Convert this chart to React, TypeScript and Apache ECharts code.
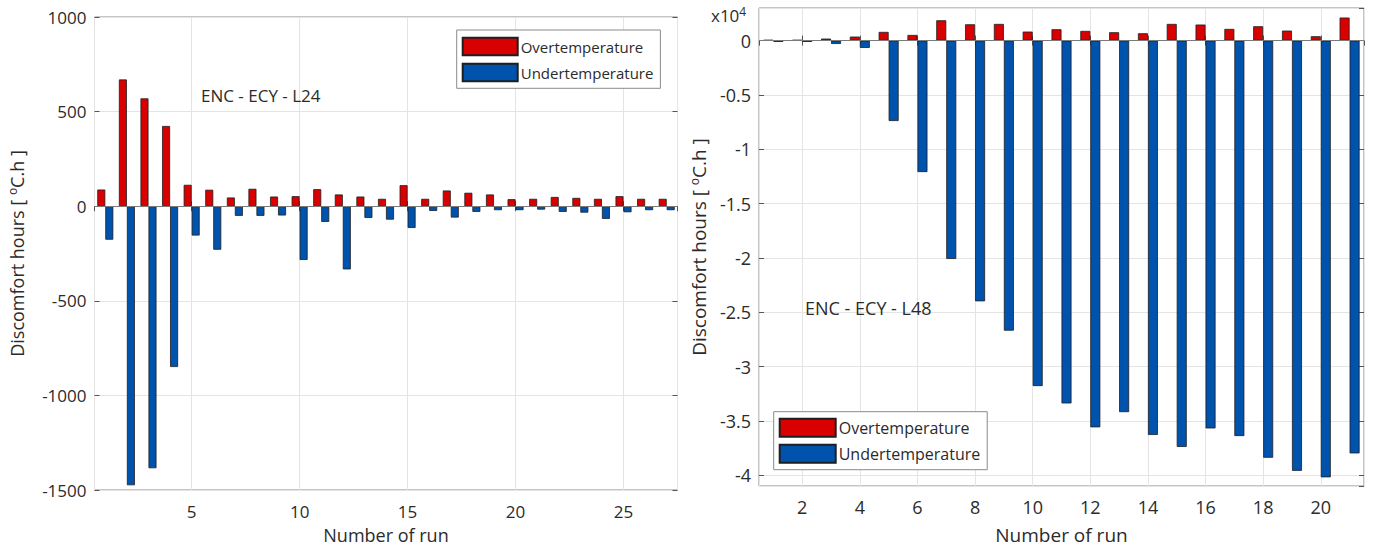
import React, { useEffect, useRef } from "react";
import * as echarts from "echarts";

// ---- Data ----
const leftRuns = [1, 2, 3, 4, 5, 6, 7, 8, 9, 10, 11, 12, 13, 14, 15, 16, 17, 18, 19, 20, 21, 22, 23, 24, 25, 26, 27];
const leftOver = [88, 670, 570, 424, 113, 87, 46, 92, 51, 53, 90, 62, 51, 39, 111, 39, 83, 71, 62, 37, 39, 49, 44, 39, 53, 39, 39];
const leftUnder = [-177, -1475, -1385, -850, -155, -230, -51, -51, -49, -284, -83, -334, -62, -71, -115, -25, -60, -30, -21, -21, -18, -30, -34, -67, -32, -21, -21];

const rightRuns = [1, 2, 3, 4, 5, 6, 7, 8, 9, 10, 11, 12, 13, 14, 15, 16, 17, 18, 19, 20, 21];
const rightOver = [60, 60, 185, 370, 800, 520, 1870, 1500, 1535, 830, 1045, 890, 770, 675, 1535, 1475, 1075, 1320, 920, 400, 2120];
const rightUnder = [-120, -120, -310, -675, -7400, -12100, -20100, -24000, -26700, -31800, -33400, -35600, -34200, -36300, -37400, -35700, -36400, -38400, -39600, -40200, -38000];

const seriesNames = ["Overtemperature", "Undertemperature"];
const leftTitle = "ENC - ECY - L24";
const rightTitle = "ENC - ECY - L48";
const xTitle = "Number of run";
const yTitle = "Discomfort hours [ {sup|o}C.h ]";

const FONT = '"Open Sans", sans-serif';
const RED = "#d90000";
const BLUE = "#0053ad";
const EDGE = "#1e1e1e";
const TXT = "#2b2b2b";
const GRIDC = "#e4e4e4";
const BOXC = "#8a8a8a";

function pairs(xs: number[], ys: number[]) {
  return xs.map((x, i) => [x, ys[i]]);
}

export default function App() {
  const ref = useRef<HTMLDivElement>(null);
  useEffect(() => {
    if (!ref.current) return;
    const chart = echarts.init(ref.current, undefined, { renderer: "svg" });

    const richSup = {
      sup: { fontSize: 12, fontFamily: FONT, color: TXT, verticalAlign: "top", padding: [0, 0, 9, 0] },
    };

    const mkX = (gi: number, min: number, max: number, step: number, pos: string, main: boolean, labelMargin: number, nameGap: number, labelSize: number, nameSize: number) => ({
      gridIndex: gi,
      type: "value",
      min,
      max,
      minInterval: step,
      maxInterval: step,
      splitNumber: Math.round((max - min) / step),
      position: pos,
      axisLine: { show: false },
      axisTick: { show: true, inside: true, length: 5, lineStyle: { color: "#555" } },
      axisLabel: main
        ? {
            show: true,
            fontFamily: FONT,
            fontSize: labelSize,
            color: TXT,
            margin: labelMargin,
            showMinLabel: false,
            showMaxLabel: false,
            formatter: (v: number) => (Number.isInteger(v) && v % step === 0 ? String(v) : ""),
          }
        : { show: false },
      splitLine: main ? { show: true, lineStyle: { color: GRIDC, width: 1 } } : { show: false },
      name: main ? xTitle : "",
      nameLocation: "middle",
      nameGap,
      nameTextStyle: { fontFamily: FONT, fontSize: nameSize, color: TXT },
    });

    const mkY = (gi: number, min: number, max: number, step: number, pos: string, main: boolean, fmt: (v: number) => string, nameGap: number, labelSize: number, nameSize: number, showEnds: boolean) => ({
      gridIndex: gi,
      type: "value",
      min,
      max,
      minInterval: step,
      maxInterval: step,
      splitNumber: Math.round((max - min) / step),
      position: pos,
      axisLine: { show: false },
      axisTick: { show: true, inside: true, length: 5, lineStyle: { color: "#555" } },
      axisLabel: main
        ? {
            show: true,
            fontFamily: FONT,
            fontSize: labelSize,
            color: TXT,
            margin: 8,
            showMinLabel: showEnds,
            showMaxLabel: showEnds,
            formatter: fmt,
          }
        : { show: false },
      splitLine: main ? { show: true, lineStyle: { color: GRIDC, width: 1 } } : { show: false },
      name: main ? yTitle : "",
      nameLocation: "middle",
      nameGap,
      nameRotate: 90,
      nameTextStyle: { fontFamily: FONT, fontSize: nameSize, color: TXT, rich: richSup },
    });

    const zeroLine = {
      silent: true,
      symbol: "none",
      label: { show: false },
      lineStyle: { color: "#7a7a7a", width: 1, type: "solid" },
      data: [{ yAxis: 0 }],
    };

    const barSeries = (name: string, color: string, xi: number, yi: number, data: number[][], width: number, withZero: boolean) => ({
      name,
      type: "bar",
      xAxisIndex: xi,
      yAxisIndex: yi,
      barWidth: width,
      barGap: "0%",
      itemStyle: { color, borderColor: EDGE, borderWidth: 0.8 },
      data,
      markLine: withZero ? zeroLine : undefined,
    });

    const leftYFmt = (v: number) => (v % 500 === 0 ? String(v) : "");
    const rightYFmt = (v: number) => (v % 5000 === 0 ? String(v / 10000) : "");

    const legendCommon = {
      orient: "vertical",
      icon: "rect",
      backgroundColor: "#ffffff",
      borderColor: "#8a8a8a",
      borderWidth: 1,
      selectedMode: false,
      data: seriesNames,
    };

    chart.setOption({
      animation: false,
      grid: [
        { left: 94.5, top: 17, width: 583, height: 473, show: true, borderColor: BOXC, borderWidth: 1, backgroundColor: "#fff" },
        { left: 759, top: 8, width: 605, height: 478, show: true, borderColor: BOXC, borderWidth: 1, backgroundColor: "#fff" },
      ],
      xAxis: [
        mkX(0, 0.5, 27.5, 5, "bottom", true, 13, 36, 17, 18),
        mkX(0, 0.5, 27.5, 5, "top", false, 0, 0, 17, 18),
        mkX(1, 0.5, 21.5, 2, "bottom", true, 12, 39, 18, 19),
        mkX(1, 0.5, 21.5, 2, "top", false, 0, 0, 18, 19),
      ],
      yAxis: [
        mkY(0, -1500, 1000, 500, "left", true, leftYFmt, 67, 17, 18, true),
        mkY(0, -1500, 1000, 500, "right", false, leftYFmt, 0, 17, 18, false),
        mkY(1, -41000, 3000, 5000, "left", true, rightYFmt, 50, 18, 19, false),
        mkY(1, -41000, 3000, 5000, "right", false, rightYFmt, 0, 18, 19, false),
      ],
      legend: [
        {
          ...legendCommon,
          left: 456.7,
          top: 30,
          padding: [6.7, 7, 6, 5],
          itemWidth: 55,
          itemHeight: 17.6,
          itemGap: 6.4,
          textStyle: { fontFamily: FONT, fontSize: 15, color: TXT, lineHeight: 17.6, padding: [0, 0, 0, -2] },
        },
        {
          ...legendCommon,
          left: 773.7,
          top: 411.7,
          padding: [6, 7, 6, 5],
          itemWidth: 56,
          itemHeight: 18,
          itemGap: 6,
          textStyle: { fontFamily: FONT, fontSize: 16, color: TXT, lineHeight: 18, padding: [0, 0, 0, -2] },
        },
      ],
      graphic: [
        {
          type: "text",
          left: 201,
          top: 87,
          z: 100,
          style: { text: leftTitle, fontFamily: FONT, fontSize: 17, fill: TXT },
        },
        {
          type: "text",
          left: 805,
          top: 299,
          z: 100,
          style: { text: rightTitle, fontFamily: FONT, fontSize: 18, fill: TXT },
        },
        {
          type: "text",
          left: 711,
          top: 5,
          z: 100,
          style: {
            text: "x10{sup|4}",
            fontFamily: FONT,
            fontSize: 17,
            fill: TXT,
            rich: { sup: { fontSize: 12, fontFamily: FONT, fill: TXT, verticalAlign: "top", padding: [0, 0, 8, 0] } },
          },
        },
      ],
      series: [
        barSeries(seriesNames[0], RED, 0, 0, pairs(leftRuns, leftOver), 8, true),
        barSeries(seriesNames[1], BLUE, 0, 0, pairs(leftRuns, leftUnder), 8, false),
        barSeries(seriesNames[0], RED, 2, 2, pairs(rightRuns, rightOver), 10, true),
        barSeries(seriesNames[1], BLUE, 2, 2, pairs(rightRuns, rightUnder), 10, false),
      ],
    });

    return () => chart.dispose();
  }, []);

  return (
    <div
      ref={ref}
      style={{ position: "fixed", left: 0, top: 0, width: 1373, height: 551, background: "#fff" }}
    />
  );
}
